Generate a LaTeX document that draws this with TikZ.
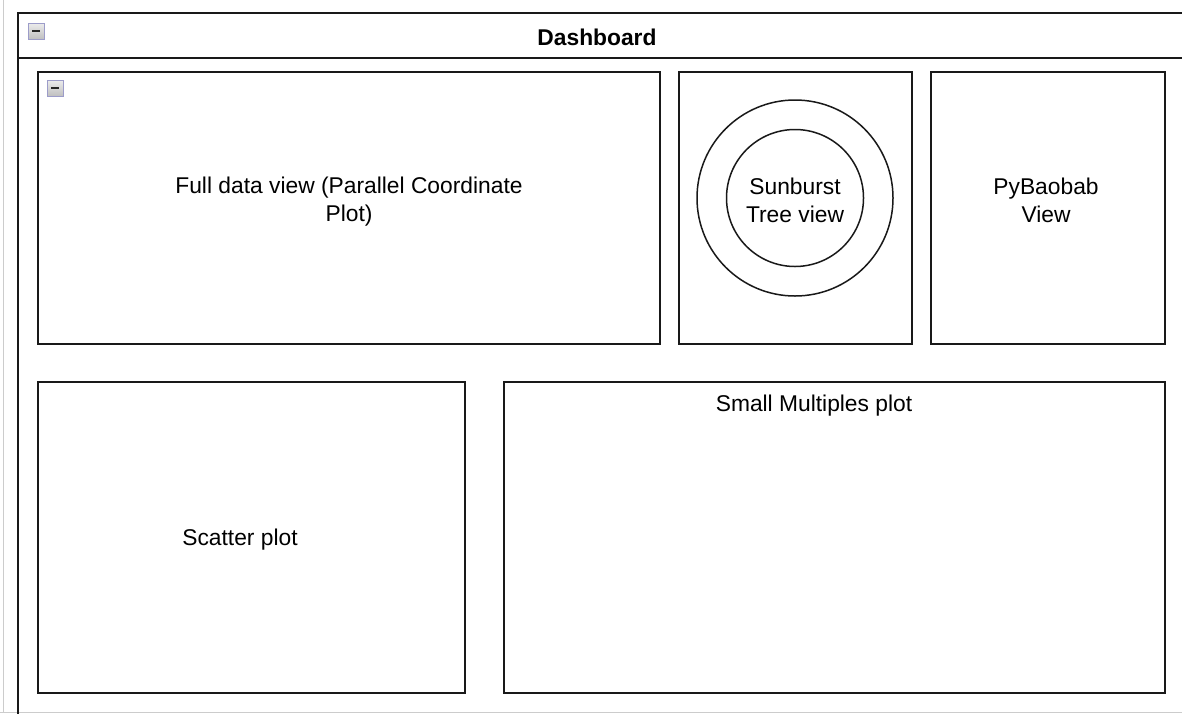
\documentclass[tikz,border=0pt]{standalone}
\usepackage{fontspec}
\setmainfont{Liberation Sans}
\begin{document}
\begin{tikzpicture}[x=1pt,y=-1pt,
  panel/.style={draw=black!90,line width=1.6pt},
  ring/.style={draw=black!90,line width=1.5pt},
  lbl/.style={font=\fontsize{22.8}{28}\selectfont,align=center,inner sep=0pt},
  collapser/.style={draw=gray!70!blue!60,line width=0.8pt,top color=gray!15,bottom color=gray!50},
  edge/.style={draw=gray!40,line width=0.9pt}]
\useasboundingbox (0,0) rectangle (1182,713);
\clip (0,0) rectangle (1182,713);

% page edges
\draw[edge] (3,0) -- (3,713);
\draw[edge] (0,712) -- (1182,712);

% dashboard frame and title bar
\draw[panel] (18,13) rectangle (1200,730);
\draw[panel] (18,58) -- (1200,58);
\node[font=\fontsize{22.8}{28}\selectfont\bfseries,inner sep=0pt] (title) at (597,37) {Dashboard};

% collapse buttons
\newcommand\collapsebox[3]{%
  \draw[collapser] (#1,#2) rectangle ++(16,16);
  \draw[line width=2pt,black!85] (#1+4,#2+8) -- (#1+12,#2+8);
  \coordinate (#3) at (#1+8,#2+8);}
\collapsebox{28}{23}{btnMain}
\collapsebox{47}{80}{btnFull}

% top row panels
\node[panel,minimum width=622pt,minimum height=272pt,inner sep=0pt] (full) at (349,208) {};
\node[lbl] (fulltxt) at (349,202) {Full data view (Parallel Coordinate\\Plot)};

\node[panel,minimum width=233pt,minimum height=272pt,inner sep=0pt] (sun) at (795.5,208) {};
\node[ring,circle,minimum size=196pt,inner sep=0pt] (outer) at (795,198) {};
\node[ring,circle,minimum size=137pt,inner sep=0pt] (inner) at (795,198) {};
\node[lbl] (suntxt) at (795,200) {Sunburst\\Tree view};

\node[panel,minimum width=234pt,minimum height=272pt,inner sep=0pt] (baobab) at (1048,208) {};
\node[lbl] (baobabtxt) at (1046,200) {PyBaobab\\View};

% bottom row panels
\node[panel,minimum width=427pt,minimum height=311pt,inner sep=0pt] (scatter) at (251.5,537.5) {};
\node[lbl] (scattertxt) at (240,540) {Scatter plot};

\node[panel,minimum width=661pt,minimum height=311pt,inner sep=0pt] (multi) at (834.5,537.5) {};
\node[lbl] (multitxt) at (814,406) {Small Multiples plot};
\end{tikzpicture}
\end{document}
